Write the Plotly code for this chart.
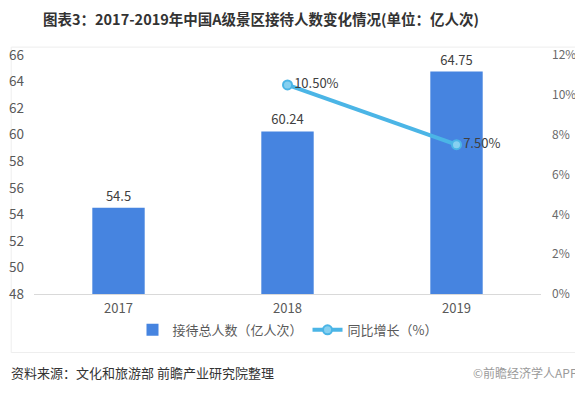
import plotly.graph_objects as go

years = ["2017", "2018", "2019"]
visitors = [54.5, 60.24, 64.75]
visitor_labels = ["54.5", "60.24", "64.75"]
growth_years = ["2018", "2019"]
growth = [10.5, 7.5]
growth_labels = ["10.50%", "7.50%"]

font_cn = "Noto Sans CJK SC"

fig = go.Figure()
fig.add_trace(go.Bar(
    x=years, y=visitors, name="接待总人数（亿人次）",
    text=visitor_labels, textposition="outside", cliponaxis=False,
    textfont=dict(size=13, color="#404040", family=font_cn),
    marker=dict(color="#4684e0", line=dict(width=0)),
    width=0.31,
))
fig.add_trace(go.Scatter(
    x=growth_years, y=growth, name="同比增长（%）", yaxis="y2",
    mode="lines+markers+text", text=growth_labels, textposition="middle right",
    textfont=dict(size=13, color="#404040", family=font_cn),
    line=dict(color="#4bb5e6", width=4),
    marker=dict(size=9, color="#86d0f0", line=dict(color="#4bb5e6", width=2)),
    cliponaxis=False,
))

fig.update_layout(
    width=575, height=386,
    margin=dict(l=26, r=42, t=47, b=100, autoexpand=False),
    paper_bgcolor="white", plot_bgcolor="white",
    font=dict(family=font_cn, color="#595959", size=13),
    title=dict(text="<b>图表3：2017-2019年中国A级景区接待人数变化情况(单位：亿人次)</b>",
               x=0.44, xanchor="center", xref="container", y=0.969, yanchor="middle",
               font=dict(size=14.5, color="#333333", family=font_cn)),
    xaxis=dict(type="category", range=[-0.5, 2.5], showgrid=False, automargin=False,
               showline=True, linecolor="#d9d9d9", linewidth=1, ticklabelstandoff=2,
               ticks="", tickfont=dict(size=13, color="#595959")),
    yaxis=dict(range=[48, 66], dtick=2, showgrid=False, zeroline=False, automargin=False,
               showline=False, ticks="", ticklabelstandoff=9,
               tickfont=dict(size=13.5, color="#595959")),
    yaxis2=dict(range=[0, 12], dtick=2, ticksuffix="%", overlaying="y", side="right",
                showgrid=False, zeroline=False, showline=False, ticks="", automargin=False,
                ticklabelstandoff=10, tickfont=dict(size=12, color="#6a6a6a")),
    legend=dict(orientation="h", x=0.5, xanchor="center", y=-0.15, yanchor="middle",
                font=dict(size=13, color="#595959"), itemwidth=30),
    showlegend=True,
)

fig.add_shape(type="rect", xref="paper", yref="paper",
              x0=-0.045, x1=1.075, y0=-0.245, y1=1.033,
              line=dict(color="#eeeeee", width=1), layer="below")

fig.add_annotation(text="资料来源：文化和旅游部 前瞻产业研究院整理", xref="paper", yref="paper",
                   x=-0.049, y=-0.33, xanchor="left", yanchor="middle", showarrow=False,
                   font=dict(size=13, color="#333333", family=font_cn))
fig.add_annotation(text="©前瞻经济学人APP", xref="paper", yref="paper",
                   x=1.075, y=-0.33, xanchor="right", yanchor="middle", showarrow=False,
                   font=dict(size=12, color="#9a9a9a", family=font_cn))

fig.write_html("out.html")
